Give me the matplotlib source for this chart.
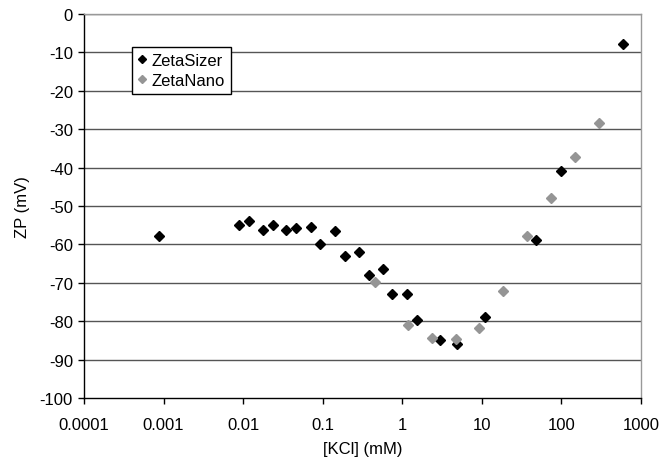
import matplotlib
matplotlib.use("Agg")
import matplotlib.pyplot as plt
from matplotlib.ticker import FixedLocator, FixedFormatter, NullLocator

plt.rcParams['font.family'] = ['Liberation Sans', 'DejaVu Sans']

# ZetaSizer data
sizer_x = [0.00088, 0.0088, 0.0117, 0.0176, 0.0235, 0.0349, 0.0466, 0.072, 0.093,
           0.144, 0.19, 0.283, 0.378, 0.568, 0.75, 1.135, 1.52, 2.98, 4.92, 10.9,
           47.5, 98, 600]
sizer_y = [-57.9, -54.9, -53.8, -56.25, -54.9, -56.25, -55.8, -55.5, -59.9,
           -56.4, -62.9, -61.9, -67.9, -66.4, -72.8, -72.8, -79.8, -84.8, -85.9, -78.8,
           -58.8, -40.9, -7.9]

# ZetaNano data
nano_x = [0.45, 1.19, 2.34, 4.69, 9.3, 18.6, 37.3, 74, 148, 294]
nano_y = [-69.9, -81.0, -84.4, -84.7, -81.9, -72.2, -57.8, -47.8, -37.2, -28.5]

x_ticks = [0.0001, 0.001, 0.01, 0.1, 1, 10, 100, 1000]
x_tick_labels = ['0.0001', '0.001', '0.01', '0.1', '1', '10', '100', '1000']
y_ticks = list(range(-100, 1, 10))

FS = 12

fig = plt.figure(figsize=(6.62, 4.64), dpi=100)
ax = fig.add_axes([84/662, 1 - 399/464, (641-84)/662, (399-15)/464])

ax.set_xscale('log')
ax.set_xlim(0.0001, 1000)
ax.set_ylim(-100, 0)

for yv in y_ticks:
    if yv != -100:
        ax.axhline(yv, color='#555555', lw=1.0, zorder=1)

ax.plot(sizer_x, sizer_y, linestyle='none', marker='D', ms=5.5, color='black',
        label='ZetaSizer', zorder=3)
ax.plot(nano_x, nano_y, linestyle='none', marker='D', ms=5.5, color='#959595',
        label='ZetaNano', zorder=3)

ax.xaxis.set_major_locator(FixedLocator(x_ticks))
ax.xaxis.set_major_formatter(FixedFormatter(x_tick_labels))
ax.xaxis.set_minor_locator(NullLocator())
ax.set_yticks(y_ticks)
ax.set_yticklabels([str(v) for v in y_ticks])

ax.tick_params(axis='both', direction='out', length=4, width=1, labelsize=FS,
               color='black', labelcolor='black')
ax.tick_params(axis='x', pad=10)
ax.tick_params(axis='y', pad=4)

for s in ['top', 'right']:
    ax.spines[s].set_color('#999999')
    ax.spines[s].set_linewidth(1.0)
for s in ['left', 'bottom']:
    ax.spines[s].set_color('black')
    ax.spines[s].set_linewidth(1.0)

ax.set_xlabel('[KCl] (mM)', fontsize=FS, labelpad=6)
ax.set_ylabel('ZP (mV)', fontsize=FS, labelpad=7)

leg = ax.legend(loc='upper left', bbox_to_anchor=(132/662, 1 - 48/464),
                bbox_transform=fig.transFigure, fancybox=False, framealpha=1,
                edgecolor='black', fontsize=FS, handlelength=0.5,
                handletextpad=0.35, borderpad=0.35, labelspacing=0.3,
                borderaxespad=0, markerscale=0.75)
leg.get_frame().set_linewidth(1.0)

fig.savefig('out.png', dpi=100)
